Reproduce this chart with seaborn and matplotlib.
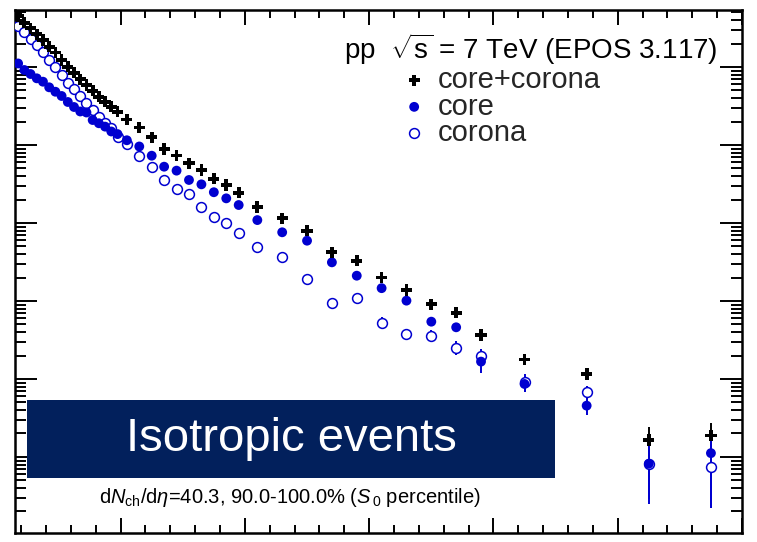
import matplotlib
matplotlib.use("Agg")
import numpy as np
import pandas as pd
import matplotlib.pyplot as plt
import seaborn as sns
from matplotlib.ticker import MultipleLocator, LogLocator, NullFormatter
from matplotlib.patches import Rectangle

# pT bin centres (GeV/c)
pt = [0.175, 0.225, 0.275, 0.325, 0.375, 0.425, 0.475, 0.525, 0.575, 0.625,
      0.675, 0.725, 0.775, 0.825, 0.875, 0.925, 0.975,
      1.05, 1.15, 1.25, 1.35, 1.45, 1.55, 1.65, 1.75, 1.85, 1.95,
      2.1, 2.3, 2.5, 2.7, 2.9, 3.1, 3.3, 3.5, 3.7, 3.9,
      4.25, 4.75, 5.25, 5.75]

# spectra
core_corona = [4.51, 3.70, 3.13, 2.63, 2.22, 1.82, 1.53, 1.23, 1.01, 0.845,
               0.695, 0.588, 0.497, 0.416, 0.359, 0.310, 0.267,
               0.213, 0.167, 0.126, 0.0889, 0.0733, 0.0582, 0.0478, 0.0370, 0.0307, 0.0244,
               0.0160, 0.0115, 0.00797, 0.00421, 0.00327, 0.00200, 0.00138, 0.000907, 0.000708, 0.000366,
               0.000178, 0.000116, 1.65e-5, 1.88e-5]
core = [1.11, 0.915, 0.813, 0.716, 0.648, 0.549, 0.482, 0.425, 0.356, 0.307,
        0.269, 0.261, 0.209, 0.190, 0.172, 0.149, 0.138,
        0.115, 0.0957, 0.0729, 0.0527, 0.0469, 0.0356, 0.0313, 0.0248, 0.0207, 0.0170,
        0.0109, 0.00760, 0.00593, 0.00313, 0.00211, 0.00146, 0.00101, 0.000543, 0.000460, 0.000167,
        8.63e-5, 4.55e-5, 8.2e-6, 1.12e-5]
corona = [3.40, 2.77, 2.29, 1.91, 1.57, 1.23, 1.01, 0.789, 0.629, 0.518,
          0.429, 0.343, 0.281, 0.226, 0.190, 0.164, 0.126,
          0.102, 0.0716, 0.0515, 0.0359, 0.0270, 0.0232, 0.0162, 0.0118, 0.0101, 0.00738,
          0.00488, 0.00370, 0.00193, 0.000951, 0.00108, 0.000527, 0.000378, 0.000359, 0.000252, 0.000197,
          9.15e-5, 6.87e-5, 8.2e-6, 7.5e-6]

# relative statistical errors
rel_core_corona = [0] * 27 + [0.02, 0.03, 0.03, 0.05, 0.05, 0.07, 0.08, 0.08, 0.09, 0.12,
                              0.12, 0.15, 0.48, 0.44]
rel_core = [0] * 27 + [0.03, 0.04, 0.05, 0.06, 0.07, 0.08, 0.10, 0.12, 0.14, 0.28,
                       0.22, 0.25, 0.70, 0.80]
rel_corona = [0] * 27 + [0.04, 0.05, 0.07, 0.10, 0.10, 0.17, 0.17, 0.17, 0.20, 0.22,
                         0.25, 0.20, 0.65, 0.70]

df = pd.DataFrame({"pt": pt, "core+corona": core_corona, "core": core, "corona": corona})

sns.set_theme(style="ticks")
plt.rcParams["font.family"] = ["Liberation Sans", "DejaVu Sans"]
plt.rcParams["mathtext.fontset"] = "custom"
plt.rcParams["mathtext.rm"] = "Liberation Sans"
plt.rcParams["mathtext.it"] = "Liberation Sans:italic"

blue = "#0000d0"
fig = plt.figure(figsize=(7.57, 5.42), dpi=100)
ax = fig.add_axes([15 / 757, 1 - 533 / 542, 727 / 757, 523 / 542])

# error bars
for col, rel, c in [("core+corona", rel_core_corona, "black"),
                    ("core", rel_core, blue),
                    ("corona", rel_corona, blue)]:
    y = df[col].values
    ax.errorbar(df["pt"], y, yerr=y * np.array(rel), fmt="none",
                ecolor=c, elinewidth=1.4, capsize=0, zorder=2)

sns.scatterplot(data=df, x="pt", y="core+corona", ax=ax, marker="P", s=65,
                color="black", edgecolor="none", label="core+corona", zorder=4)
sns.scatterplot(data=df, x="pt", y="corona", ax=ax, marker="o", s=50,
                facecolor="white", edgecolor=blue, linewidth=1.1, label="corona", zorder=3)
sns.scatterplot(data=df, x="pt", y="core", ax=ax, marker="o", s=50,
                color=blue, edgecolor="none", label="core", zorder=3.5)

ax.set_yscale("log")
ax.set_xlim(0.15, 6.0)
ax.set_ylim(1.06e-6, 5.38)
ax.set_xlabel("")
ax.set_ylabel("")

ax.xaxis.set_major_locator(MultipleLocator(1))
ax.xaxis.set_minor_locator(MultipleLocator(0.2))
ax.yaxis.set_major_locator(LogLocator(base=10, numticks=20))
ax.yaxis.set_minor_locator(LogLocator(base=10, subs=np.arange(2, 10), numticks=20))
ax.xaxis.set_major_formatter(NullFormatter())
ax.xaxis.set_minor_formatter(NullFormatter())
ax.yaxis.set_major_formatter(NullFormatter())
ax.yaxis.set_minor_formatter(NullFormatter())
ax.tick_params(axis="both", which="both", direction="in", top=True, right=True,
               width=1.4, color="black")
ax.tick_params(axis="x", which="major", length=11)
ax.tick_params(axis="x", which="minor", length=5.5)
ax.tick_params(axis="y", which="major", length=16)
ax.tick_params(axis="y", which="minor", length=8)
for s in ax.spines.values():
    s.set_linewidth(1.8)
    s.set_color("black")

ax.text(0.967, 0.926, r"pp  $\sqrt{\mathrm{s}}$ = 7 TeV (EPOS 3.117)", transform=ax.transAxes,
        ha="right", va="center", fontsize=20, color="black")
handles, labels = ax.get_legend_handles_labels()
order = [labels.index(n) for n in ["core+corona", "core", "corona"]]
ax.legend([handles[i] for i in order], [labels[i] for i in order],
          loc="upper left", bbox_to_anchor=(0.525, 0.893), frameon=False,
          fontsize=21, handletextpad=0.2, handlelength=1.2, labelspacing=-0.05,
          borderpad=0, borderaxespad=0)

ax.add_patch(Rectangle((0.0165, 0.105), 0.7265, 0.149, transform=ax.transAxes,
                       facecolor="#02205c", edgecolor="none", zorder=5))
ax.text(0.38, 0.18, "Isotropic events", transform=ax.transAxes, ha="center", va="center",
        fontsize=34, color="white", zorder=6)
ax.text(0.378, 0.067, r"d$N_{\mathrm{ch}}$/d$\eta$=40.3, 90.0-100.0% ($S_{\,0}$ percentile)",
        transform=ax.transAxes, ha="center", va="center", fontsize=14.5, color="black")

fig.savefig("out.png", dpi=100)
